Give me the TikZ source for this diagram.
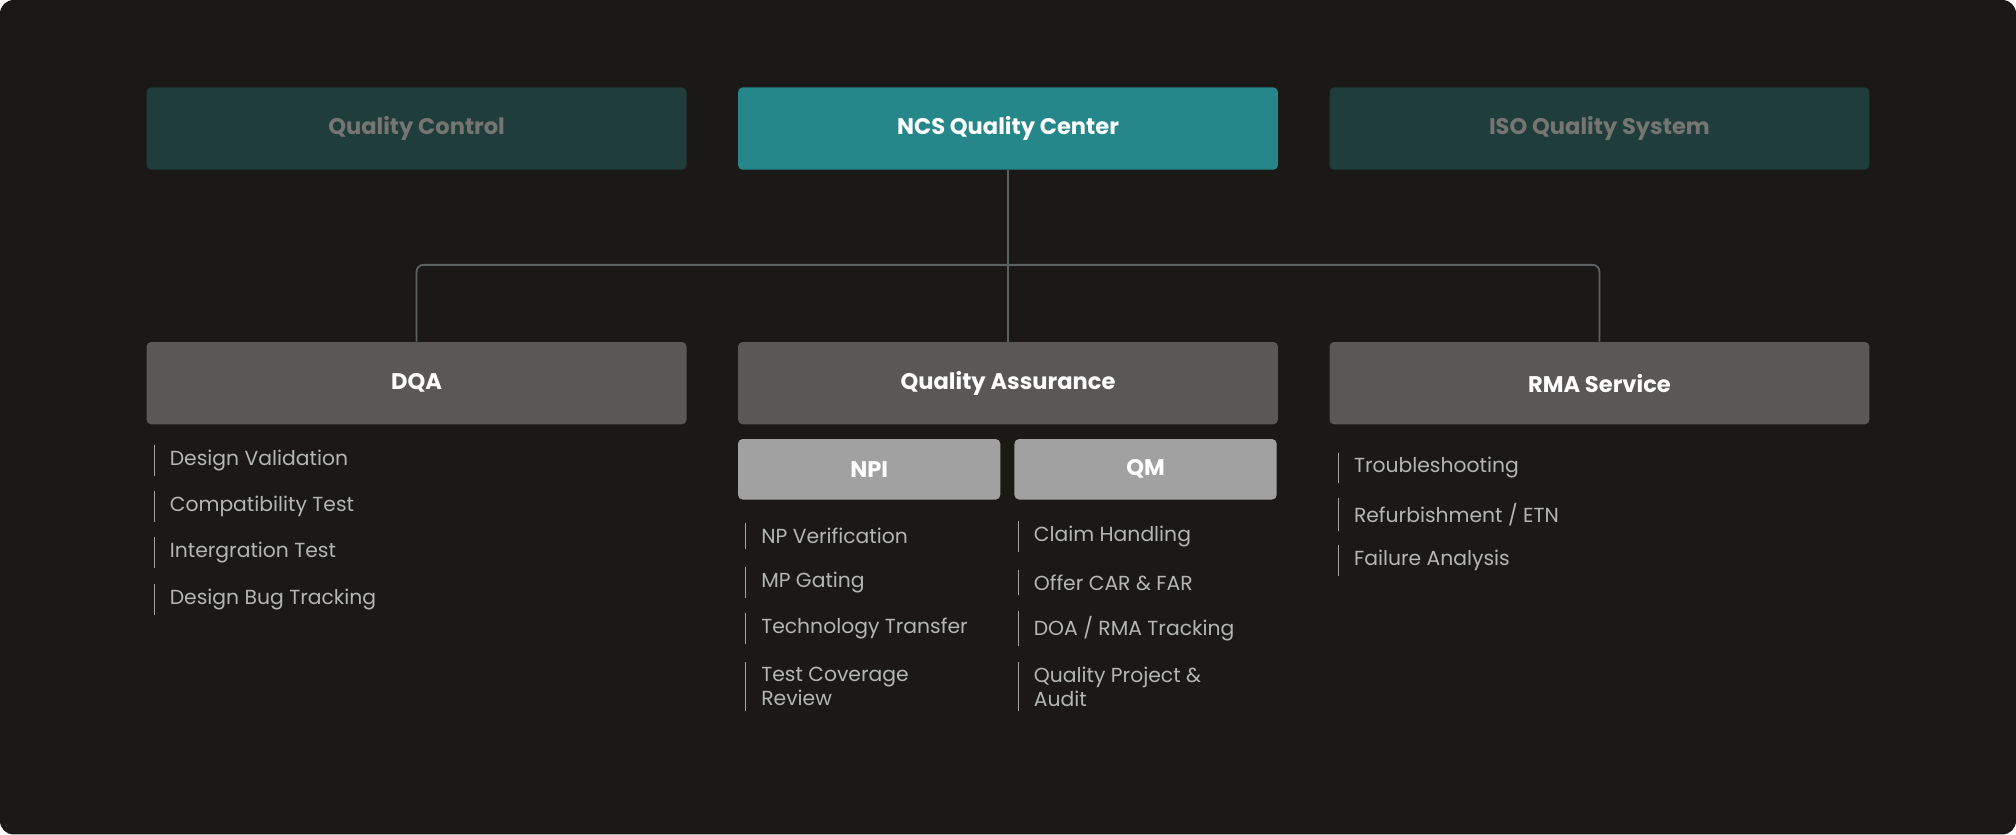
\documentclass[tikz,border=0pt]{standalone}
\usepackage{fontspec}
\setmainfont{Poppins}
\usetikzlibrary{positioning}
\definecolor{bgdark}{HTML}{1A1918}
\definecolor{tealdim}{HTML}{1F3D3B}
\definecolor{tealmain}{HTML}{25878A}
\definecolor{greybox}{HTML}{595857}
\definecolor{greylight}{HTML}{A0A1A0}
\definecolor{linegrey}{HTML}{5C6161}
\definecolor{itemtext}{HTML}{B4B6B6}
\tikzset{
  box/.style   = {rectangle, rounded corners=2pt, minimum height=1.28cm, minimum width=8.4cm, font=\fontsize{10}{12}\selectfont\bfseries},
  topdim/.style  = {box, fill=tealdim, text=white!40!bgdark},
  topmain/.style = {box, fill=tealmain, text=white},
  dept/.style  = {box, fill=greybox, text=white},
  sub/.style   = {box, minimum width=4.08cm, minimum height=0.94cm, fill=greylight, text=white},
  entry/.style = {anchor=west, inner sep=1pt, text=itemtext, align=left, font=\fontsize{9}{10.5}\selectfont},
  bar/.style   = {draw=white!60!bgdark, line width=0.6pt},
  link/.style  = {draw=linegrey, line width=0.8pt, rounded corners=3pt}
}
\newcommand{\entrybar}[1]{\draw[bar] ([xshift=-0.2cm,yshift=1pt]#1.north west) -- ([xshift=-0.2cm,yshift=-1pt]#1.south west);}
\begin{document}
\begin{tikzpicture}[x=0.02cm, y=-0.02cm]
  \fill[bgdark, rounded corners=6pt] (0,0) rectangle (1568,649);
  \useasboundingbox (0,0) rectangle (1568,649);

  % top row
  \node[topdim]  (QC)  at (324,100) {Quality Control};
  \node[topmain] (NCS) at (784,100) {NCS Quality Center};
  \node[topdim]  (ISO) at (1244,100) {ISO Quality System};

  % departments
  \node[dept] (DQA) at (324,298) {DQA};
  \node[dept] (QA)  at (784,298) {Quality Assurance};
  \node[dept] (RMA) at (1244,298) {RMA Service};
  \node[sub] (NPI) at (676,365) {NPI};
  \node[sub] (QM)  at (891,365) {QM};

  % connectors
  \coordinate (split) at (784,206);
  \draw[link] (NCS) -- (QA);
  \draw[link] (DQA.north) |- (split) -| (RMA.north);

  % DQA items
  \node[entry] (D1) at (130,358) {Design Validation};
  \node[entry] (D2) at (130,394) {Compatibility Test};
  \node[entry] (D3) at (130,430) {Intergration Test};
  \node[entry] (D4) at (130,466) {Design Bug Tracking};
  % NPI items
  \node[entry] (N1) at (590,417) {NP Verification};
  \node[entry] (N2) at (590,453) {MP Gating};
  \node[entry] (N3) at (590,489) {Technology Transfer};
  \node[entry] (N4) at (590,534) {Test Coverage\\Review};
  % QM items
  \node[entry] (M1) at (802,417) {Claim Handling};
  \node[entry] (M2) at (802,453) {Offer CAR \& FAR};
  \node[entry] (M3) at (802,489) {DOA / RMA Tracking};
  \node[entry] (M4) at (802,534) {Quality Project \&\\Audit};
  % RMA items
  \node[entry] (R1) at (1051,364) {Troubleshooting};
  \node[entry] (R2) at (1051,400) {Refurbishment / ETN};
  \node[entry] (R3) at (1051,436) {Failure Analysis};

  \foreach \n in {D1,D2,D3,D4,N1,N2,N3,N4,M1,M2,M3,M4,R1,R2,R3}
    {\entrybar{\n}}
\end{tikzpicture}
\end{document}
